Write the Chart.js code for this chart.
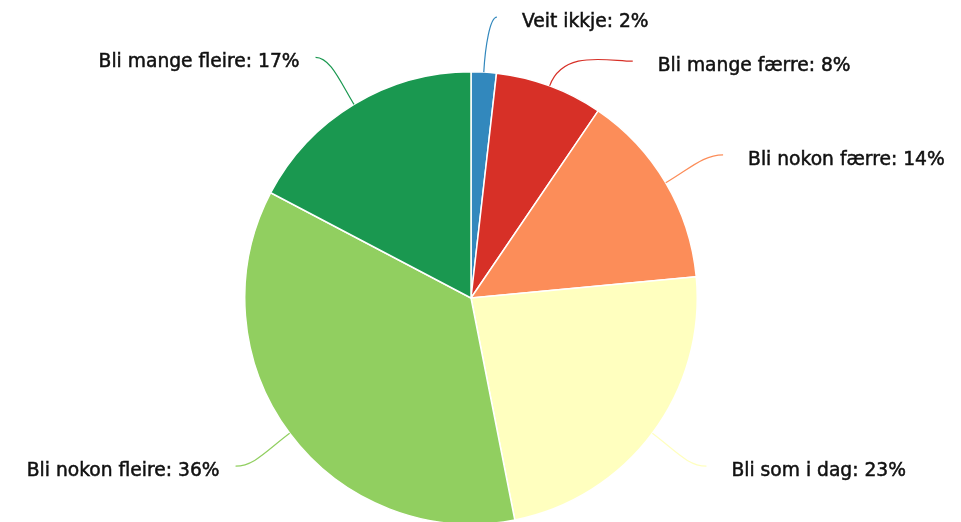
<!DOCTYPE html>
<html>
<head>
<meta charset="utf-8">
<script src="https://cdn.jsdelivr.net/npm/chart.js@4/dist/chart.umd.min.js"></script>
<style>
  html, body { margin: 0; padding: 0; background: #fff; overflow: hidden; }
  #wrap { width: 961px; height: 522px; overflow: hidden; }
</style>
</head>
<body>
<div id="wrap"><canvas id="pieChart" width="961" height="532"></canvas></div>
<script>
const labels = ['Veit ikkje', 'Bli mange færre', 'Bli nokon færre', 'Bli som i dag', 'Bli nokon fleire', 'Bli mange fleire'];
const values = [1.8, 7.7, 14.0, 23.4, 35.8, 17.3];
const colors = ['#3288bd', '#d73027', '#fc8d59', '#ffffbf', '#91cf60', '#1a9850'];

// Highcharts-like outside labels with curved connectors
const outsideLabels = {
    id: 'outsideLabels',
    afterDatasetsDraw(chart) {
        const ctx = chart.ctx;
        const meta = chart.getDatasetMeta(0);
        const items = [];
        meta.data.forEach((arc, i) => {
            const mid = (arc.startAngle + arc.endAngle) / 2;
            const r = arc.outerRadius;
            const cx = arc.x, cy = arc.y;
            const dir = { x: Math.cos(mid), y: Math.sin(mid) };
            const side = dir.x >= 0 ? 1 : -1;
            const R = r + 55;
            items.push({
                i, cx, cy, r, R, dir, side,
                edge: { x: cx + r * dir.x, y: cy + r * dir.y },
                y: cy + R * dir.y
            });
        });

        // push overlapping labels apart on each side
        [1, -1].forEach(s => {
            const list = items.filter(it => it.side === s).sort((a, b) => a.y - b.y);
            for (let k = 1; k < list.length; k++) {
                if (list[k].y - list[k - 1].y < 44) list[k].y = list[k - 1].y + 44;
            }
        });

        ctx.save();
        items.forEach(it => {
            const dy = it.y - it.cy;
            let off = Math.sqrt(Math.max(it.R * it.R - dy * dy, 0)) + 10;
            off = Math.max(off, Math.abs(it.edge.x - it.cx) + 12);
            const ax = it.cx + it.side * off;
            const ay = it.y;
            const dist = Math.hypot(ax - it.edge.x, ay - it.edge.y);
            const k = Math.min(40, dist * 0.45);
            const c1 = { x: it.edge.x + it.dir.x * k, y: it.edge.y + it.dir.y * k };
            const c2 = { x: ax - it.side * Math.min(25, Math.abs(ax - c1.x) * 0.6), y: ay };

            ctx.beginPath();
            ctx.moveTo(it.edge.x, it.edge.y);
            ctx.bezierCurveTo(c1.x, c1.y, c2.x, c2.y, ax, ay);
            ctx.strokeStyle = colors[it.i];
            ctx.lineWidth = 1.2;
            ctx.stroke();

            // label text, slightly emboldened
            const text = labels[it.i] + ': ' + Math.round(values[it.i]) + '%';
            ctx.font = '18.7px "DejaVu Sans"';
            ctx.fillStyle = '#111';
            ctx.strokeStyle = '#111';
            ctx.lineWidth = 0.5;
            ctx.textBaseline = 'middle';
            ctx.textAlign = it.side > 0 ? 'left' : 'right';
            const tx = it.side > 0 ? ax + 25 : ax - 16;
            ctx.fillText(text, tx, ay + 5);
            ctx.strokeText(text, tx, ay + 5);
        });
        ctx.restore();
    }
};

new Chart(document.getElementById('pieChart'), {
    type: 'pie',
    plugins: [outsideLabels],
    data: {
        labels: labels,
        datasets: [{
            data: values,
            backgroundColor: colors,
            borderColor: '#ffffff',
            borderWidth: 1.5
        }]
    },
    options: {
        responsive: false,
        animation: false,
        devicePixelRatio: 1,
        layout: {
            padding: { top: 71, bottom: 7, left: 0, right: 19 }
        },
        plugins: {
            legend: { display: false },
            tooltip: { enabled: false }
        }
    }
});
</script>
</body>
</html>
